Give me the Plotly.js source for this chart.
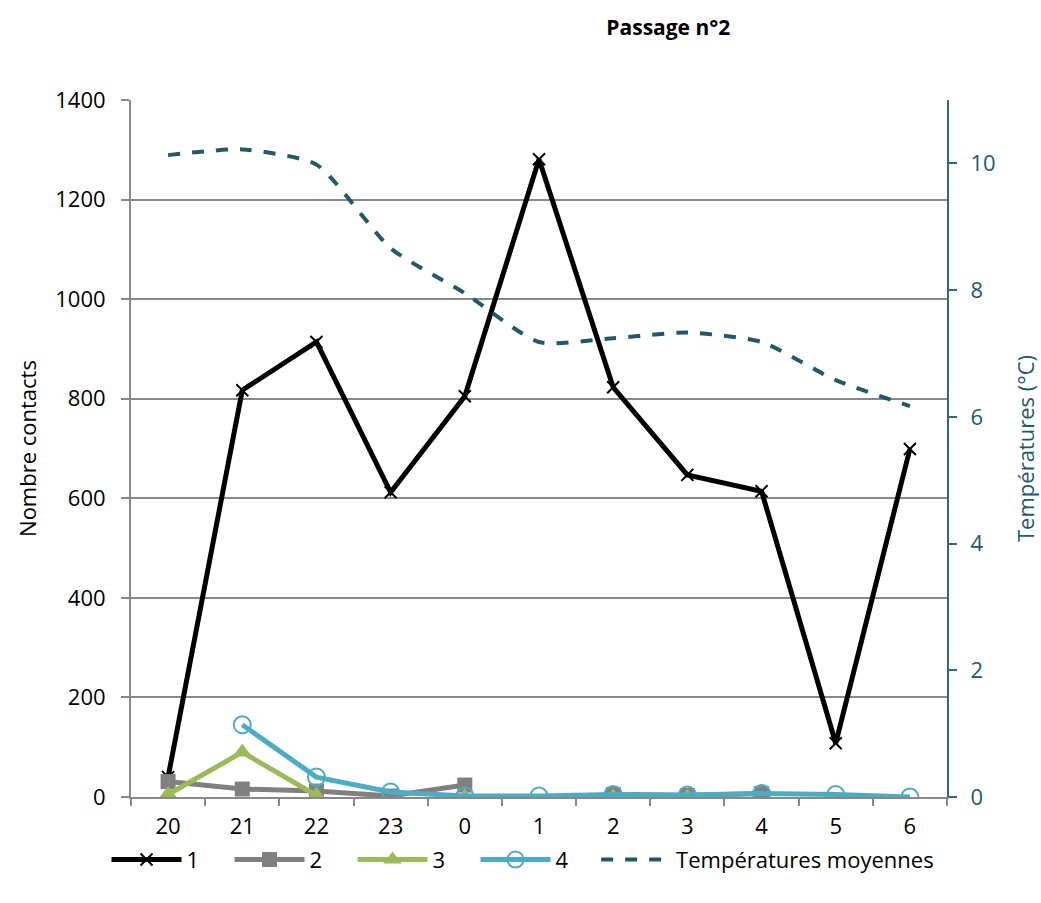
<!DOCTYPE html>
<html>
<head>
<meta charset="utf-8">
<script src="https://cdn.plot.ly/plotly-3.0.1.min.js"></script>
<style>html,body{margin:0;padding:0;background:#fff;}#chart{width:1041px;height:903px;}</style>
</head>
<body>
<div id="chart"></div>
<script>
const hours = ["20","21","22","23","0","1","2","3","4","5","6"];
const serie1 = [40, 817, 914, 612, 805, 1281, 823, 647, 614, 108, 699];
const serie2 = [31, 16, 12, 2, 24, null, 5, 3, 7, null, null];
const serie3 = [5, 90, 3, null, 0, null, 0, 0, null, null, null];
const serie4 = [null, 145, 40, 10, 2, 2, 5, 4, 7, 5, 0];
const temperatures = [10.13, 10.22, 9.98, 8.66, 7.95, 7.18, 7.24, 7.33, 7.18, 6.58, 6.17];

const FONT = "'Open Sans', 'Noto Sans', sans-serif";
const TEAL = "#215968";
const FS = 22;

const traces = [
  {x: hours, y: temperatures, name: "Températures moyennes", yaxis: "y2", mode: "lines", legend: "legend2",
   line: {color: TEAL, width: 4, dash: "dash", shape: "spline", smoothing: 0.6}},
  {x: hours, y: serie1, name: "1", mode: "lines+markers",
   line: {color: "#000000", width: 5},
   marker: {symbol: "x-thin", size: 12, color: "#000000", line: {color: "#000000", width: 2}}},
  {x: hours, y: serie2, name: "2", mode: "lines+markers",
   line: {color: "#808080", width: 5},
   marker: {symbol: "square", size: 15, color: "#808080"}},
  {x: hours, y: serie3, name: "3", mode: "lines+markers",
   line: {color: "#9BBB59", width: 5},
   marker: {symbol: "triangle-up", size: 17, color: "#9BBB59"}},
  {x: hours, y: serie4, name: "4", mode: "lines+markers",
   line: {color: "#4BACC6", width: 5},
   marker: {symbol: "circle-open", size: 17, color: "#4BACC6", line: {color: "#4BACC6", width: 2}}}
];

const layout = {
  width: 1041, height: 903,
  paper_bgcolor: "#ffffff", plot_bgcolor: "#ffffff",
  font: {family: FONT, size: FS, color: "#000000"},
  margin: {l: 131, r: 94, t: 100, b: 106},
  title: {text: "<b>Passage n°2</b>", font: {family: FONT, size: 21, color: "#000"},
          x: 0.642, xanchor: "center", y: 0.969, yanchor: "middle"},
  showlegend: true,
  legend: {orientation: "h", x: -0.03, xanchor: "left", y: -0.09, yanchor: "middle",
           font: {family: FONT, size: FS, color: "#000"}, itemwidth: 70,
           entrywidth: 38, entrywidthmode: "pixels", traceorder: "normal"},
  legend2: {orientation: "h", x: 0.570, xanchor: "left", y: -0.09, yanchor: "middle",
            font: {family: FONT, size: FS, color: "#000"}, itemwidth: 70},
  xaxis: {type: "category", range: [-0.5, 10.5], showgrid: false, showline: true,
          linecolor: "#888888", linewidth: 2, ticks: "outside", tickson: "boundaries",
          ticklen: 7, tickcolor: "#888888", tickwidth: 2, zeroline: false, ticklabelstandoff: 9,
          tickfont: {family: FONT, size: FS, color: "#000"}},
  yaxis: {range: [0, 1400], dtick: 200, showgrid: true, gridcolor: "#888888", gridwidth: 2,
          showline: true, linecolor: "#888888", linewidth: 2, ticks: "outside", ticklen: 8,
          tickcolor: "#888888", tickwidth: 2, zeroline: false, ticklabelstandoff: 11,
          tickfont: {family: FONT, size: FS, color: "#000"},
          title: {text: "Nombre contacts", font: {family: FONT, size: FS, color: "#000"}, standoff: 13}},
  yaxis2: {overlaying: "y", side: "right", range: [0, 11], tickvals: [0, 2, 4, 6, 8, 10],
           showgrid: false, showline: true, linecolor: "#2E6B7A", linewidth: 2, ticks: "outside",
           ticklen: 8, tickcolor: "#2E6B7A", tickwidth: 2, zeroline: false, ticklabelstandoff: 9,
           tickfont: {family: FONT, size: FS, color: TEAL},
           title: {text: "Températures (°C)", font: {family: FONT, size: FS, color: TEAL}, standoff: 24}}
};

Plotly.newPlot("chart", traces, layout, {displayModeBar: false, staticPlot: true});
</script>
</body>
</html>
